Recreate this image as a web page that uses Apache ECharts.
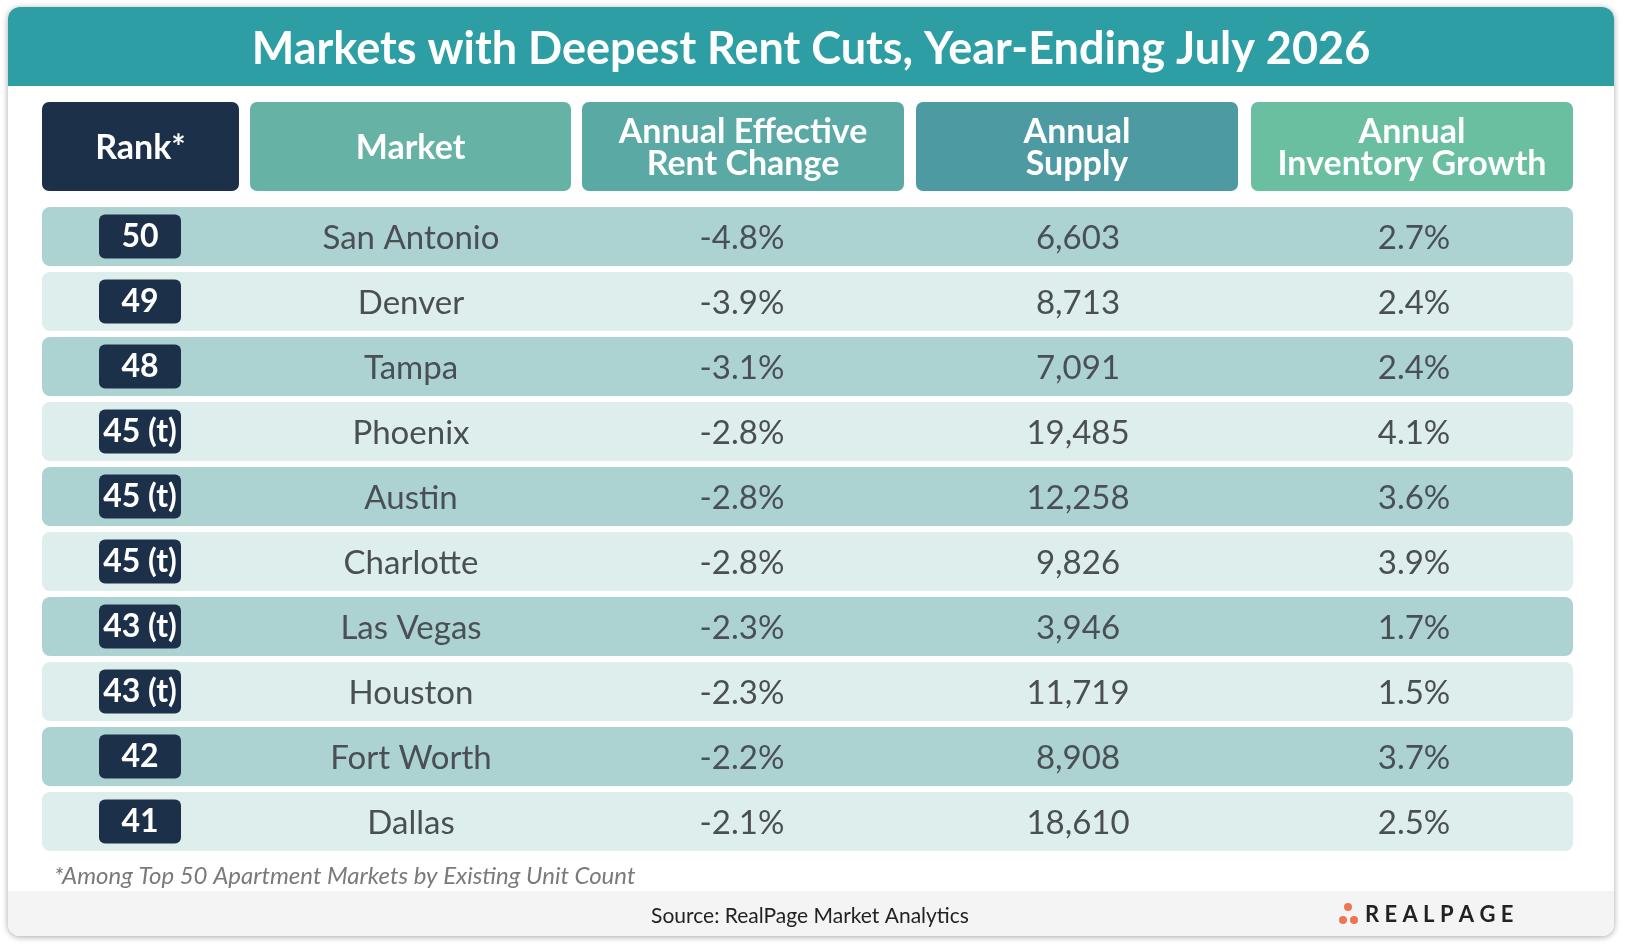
<!DOCTYPE html>
<html><head><meta charset="utf-8">
<script src="https://cdn.jsdelivr.net/npm/echarts@6/dist/echarts.min.js"></script>
<style>html,body{margin:0;padding:0;background:#fff}#c{width:1631px;height:950px}</style>
</head><body><div id="c"></div>
<script>
const title = 'Markets with Deepest Rent Cuts, Year-Ending July 2026';
const headers = ['Rank*', 'Market', 'Annual Effective\nRent Change', 'Annual\nSupply', 'Annual\nInventory Growth'];
const ranks = ['50','49','48','45 (t)','45 (t)','45 (t)','43 (t)','43 (t)','42','41'];
const markets = ['San Antonio','Denver','Tampa','Phoenix','Austin','Charlotte','Las Vegas','Houston','Fort Worth','Dallas'];
const rentChange = [-4.8,-3.9,-3.1,-2.8,-2.8,-2.8,-2.3,-2.3,-2.2,-2.1];
const supply = [6603,8713,7091,19485,12258,9826,3946,11719,8908,18610];
const invGrowth = [2.7,2.4,2.4,4.1,3.6,3.9,1.7,1.5,3.7,2.5];
const footnote = '*Among Top 50 Apartment Markets by Existing Unit Count';
const source = 'Source: RealPage Market Analytics';

const F = 'Lato, "Open Sans", sans-serif';
const cols = [[42,239],[250,571],[582,904],[916,1238],[1251,1573]];
const hdrColors = ['#1D3049','#66B3A5','#5AA9A5','#4E9AA3','#6BBFA1'];
const txt = '#4A4F54';

const chart = echarts.init(document.getElementById('c'), null, {renderer:'canvas'});
const rows = markets.map((m,i)=>[i]);

const graphics = [
  {type:'rect', shape:{x:8,y:7,width:1606,height:929,r:12}, style:{fill:'#fff', shadowBlur:6, shadowColor:'rgba(0,0,0,0.35)', shadowOffsetY:1}, z:-10},
  {type:'rect', shape:{x:8,y:891,width:1606,height:45,r:[0,0,12,12]}, style:{fill:'#F4F4F4'}, z:-9},
  {type:'rect', shape:{x:8,y:7,width:1606,height:79,r:[12,12,0,0]}, style:{fill:'#2E9EA5'}, z:-9},
  {type:'text', x:811, y:49, style:{text:title, fill:'#fff', font:'bold 45px '+F, align:'center', verticalAlign:'middle'}},
  {type:'text', x:54, y:876, style:{text:footnote, fill:'#7A7A7A', font:'italic 24px '+F, align:'left', verticalAlign:'middle'}},
  {type:'text', x:810, y:916, style:{text:source, fill:'#222', font:'21px '+F, align:'center', verticalAlign:'middle'}},
  {type:'circle', shape:{cx:1348,cy:907,r:4}, style:{fill:'#EE7553'}},
  {type:'circle', shape:{cx:1343,cy:920,r:4}, style:{fill:'#EE7553'}},
  {type:'circle', shape:{cx:1354,cy:920,r:4}, style:{fill:'#EE7553'}},
  {type:'text', x:1365, y:915, style:{text:'R E A L P A G E', fill:'#222', font:'bold 22px '+F, align:'left', verticalAlign:'middle'}},
];
headers.forEach((h,k)=>{
  graphics.push({type:'rect', shape:{x:cols[k][0],y:102,width:cols[k][1]-cols[k][0],height:89,r:7}, style:{fill:hdrColors[k]}});
  graphics.push({type:'text', x:(cols[k][0]+cols[k][1])/2, y:148, style:{text:h, fill:'#fff', font:'bold 34px '+F, lineHeight:32, align:'center', verticalAlign:'middle'}});
});

chart.setOption({
  animation:false,
  grid:{left:0,right:0,top:204,bottom:96},
  xAxis:{type:'value',min:0,max:1631,show:false},
  yAxis:{type:'category',data:markets,inverse:true,show:false},
  graphic:graphics,
  series:[{
    type:'custom',
    data:rows,
    encode:{x:-1,y:0},
    renderItem:(params, api)=>{
      const i = api.value(0);
      const c = api.coord([0,i]);
      const bw = api.size([0,1])[1];
      const y0 = c[1]-bw/2+3, h = bw-6;
      const cy = c[1];
      const x = v=>api.coord([v,i])[0];
      const t = (xx,s)=>({type:'text', x:x(xx), y:cy+2, style:{text:s, fill:txt, font:'33px '+F, align:'center', verticalAlign:'middle'}});
      return {type:'group', children:[
        {type:'rect', shape:{x:x(42),y:y0,width:x(1573)-x(42),height:h,r:8}, style:{fill: i%2===0?'#ACD3D2':'#DDEEED'}},
        {type:'rect', shape:{x:x(99),y:cy-22,width:82,height:44,r:6}, style:{fill:'#1D3049'}},
        {type:'text', x:x(140), y:cy, style:{text:ranks[i], fill:'#fff', font:'bold 32px '+F, align:'center', verticalAlign:'middle'}},
        t(411, markets[i]),
        t(742, rentChange[i].toFixed(1)+'%'),
        t(1078, supply[i].toLocaleString('en-US')),
        t(1414, invGrowth[i].toFixed(1)+'%')
      ]};
    }
  }]
});
</script></body></html>
